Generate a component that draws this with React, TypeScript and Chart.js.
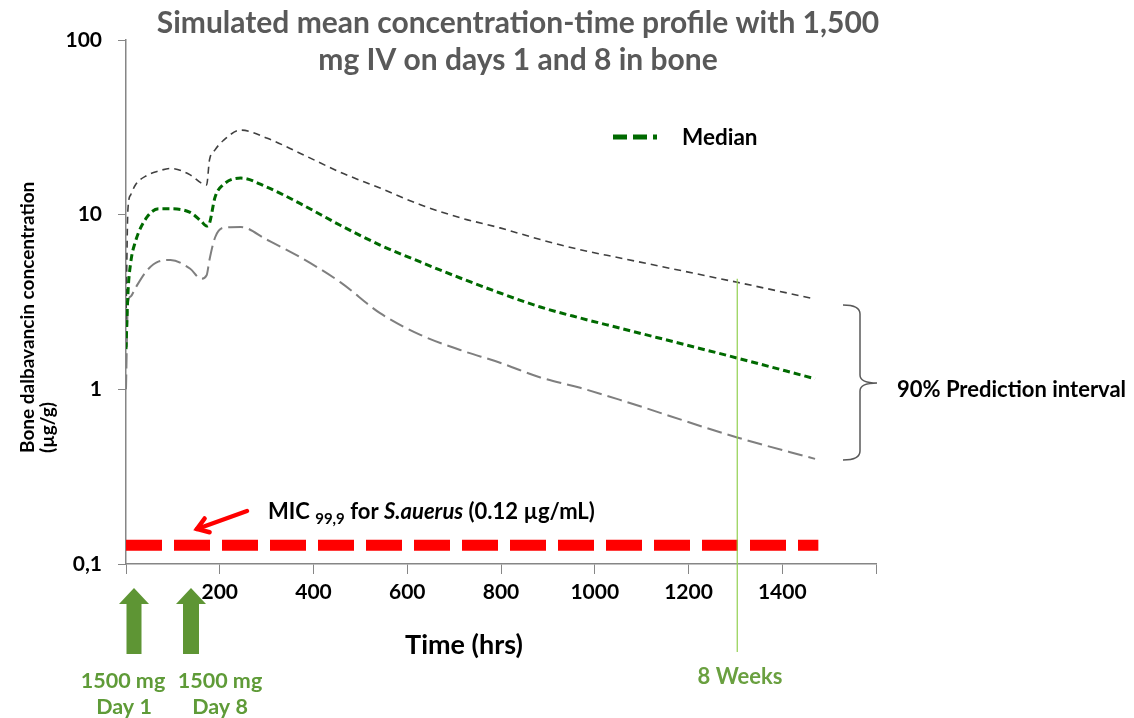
import React, { useEffect, useRef } from "react";
import { Chart, registerables } from "chart.js";

Chart.register(...registerables);

// ---- Data ----
const timeHrs = [0, 4, 10, 20, 45, 70, 95, 137, 160, 172, 178, 190, 207, 245, 300, 371, 457, 542, 628, 713, 798, 884, 969, 1054, 1304, 1470];
const upper90 = [2.5, 10.6, 13.0, 14.8, 16.8, 17.8, 18.4, 16.9, 15.2, 14.8, 20.5, 23.5, 26.5, 30.5, 27.5, 22.5, 17.5, 14.2, 11.4, 9.6, 8.4, 7.2, 6.3, 5.65, 4.1, 3.29];
const median = [1.7, 3.5, 5.3, 7.0, 9.7, 10.8, 10.8, 10.3, 9.2, 8.6, 8.9, 12.6, 14.8, 16.2, 14.4, 11.6, 8.7, 6.7, 5.36, 4.34, 3.56, 2.96, 2.56, 2.24, 1.51, 1.15];
const lower90 = [1.0, 3.1, 3.4, 3.8, 4.8, 5.4, 5.5, 4.9, 4.3, 4.5, 5.5, 7.4, 8.4, 8.5, 7.2, 5.72, 4.11, 2.73, 2.05, 1.68, 1.42, 1.17, 1.02, 0.87, 0.53, 0.40];

const micTimes = [0, 1477];
const micLevel = 0.128;
const weeksMarkTime = 1304;
const weeksMarkTopValue = 4.3;

const yTickValues = [0.1, 1, 10, 100];
const yTickLabels = ["0,1", "1", "10", "100"];
const xMin = 0;
const xMax = 1600;
const xStep = 200;

const FONT = "Lato, 'Open Sans', sans-serif";
const GREEN_TXT = "#5f9b38";

function blockArrow(ctx: CanvasRenderingContext2D, cx: number, tipY: number, headBaseY: number, bottomY: number, headHalf: number, shaftHalf: number) {
  ctx.beginPath();
  ctx.moveTo(cx, tipY);
  ctx.lineTo(cx + headHalf, headBaseY);
  ctx.lineTo(cx + shaftHalf, headBaseY);
  ctx.lineTo(cx + shaftHalf, bottomY);
  ctx.lineTo(cx - shaftHalf, bottomY);
  ctx.lineTo(cx - shaftHalf, headBaseY);
  ctx.lineTo(cx - headHalf, headBaseY);
  ctx.closePath();
  ctx.fill();
}

const annotations = {
  id: "annotations",
  afterDraw(chart: any) {
    const ctx: CanvasRenderingContext2D = chart.ctx;
    const xs = chart.scales.x;
    const ys = chart.scales.y;
    ctx.save();

    // 8 weeks line
    const wx = xs.getPixelForValue(weeksMarkTime);
    ctx.strokeStyle = "#92d050";
    ctx.lineWidth = 1.2;
    ctx.beginPath();
    ctx.moveTo(wx, ys.getPixelForValue(weeksMarkTopValue));
    ctx.lineTo(wx, 652);
    ctx.stroke();

    // Title
    ctx.fillStyle = "#595959";
    ctx.font = `bold 30px ${FONT}`;
    ctx.textAlign = "center";
    ctx.textBaseline = "alphabetic";
    ctx.fillText("Simulated mean concentration-time profile with 1,500", 518, 33);
    ctx.fillText("mg IV on days 1 and 8 in bone", 518, 70);

    // Y axis title
    ctx.save();
    ctx.fillStyle = "#000";
    ctx.font = `bold 19px ${FONT}`;
    ctx.textAlign = "left";
    ctx.translate(34, 453);
    ctx.rotate(-Math.PI / 2);
    ctx.fillText("Bone dalbavancin concentration", 0, 0);
    ctx.fillText("(µg/g)", 0, 20);
    ctx.restore();

    // X axis title
    ctx.fillStyle = "#000";
    ctx.font = `bold 27px ${FONT}`;
    ctx.textAlign = "center";
    ctx.fillText("Time (hrs)", 464, 654);

    // Legend
    ctx.strokeStyle = "#006a00";
    ctx.lineWidth = 5;
    ctx.setLineDash([14, 6]);
    ctx.beginPath();
    ctx.moveTo(613, 137);
    ctx.lineTo(657, 137);
    ctx.stroke();
    ctx.setLineDash([]);
    ctx.fillStyle = "#000";
    ctx.font = `bold 22.5px ${FONT}`;
    ctx.textAlign = "left";
    ctx.fillText("Median", 682, 145);

    // Bracket
    ctx.strokeStyle = "#595959";
    ctx.lineWidth = 1.5;
    ctx.beginPath();
    ctx.moveTo(843, 305);
    ctx.quadraticCurveTo(860, 305, 860, 314);
    ctx.lineTo(860, 375);
    ctx.quadraticCurveTo(860, 383, 877, 383);
    ctx.quadraticCurveTo(860, 383, 860, 391);
    ctx.lineTo(860, 451);
    ctx.quadraticCurveTo(860, 460, 843, 460);
    ctx.stroke();
    ctx.fillStyle = "#000";
    ctx.font = `bold 22px ${FONT}`;
    ctx.fillText("90% Prediction interval", 897, 397);

    // MIC text
    let tx = 268;
    const by = 519;
    ctx.font = `bold 22px ${FONT}`;
    ctx.fillText("MIC ", tx, by);
    tx += ctx.measureText("MIC ").width;
    ctx.font = `bold 15px ${FONT}`;
    ctx.fillText("99,9", tx, by + 5);
    tx += ctx.measureText("99,9").width;
    ctx.font = `bold 22px ${FONT}`;
    ctx.fillText(" for ", tx, by);
    tx += ctx.measureText(" for ").width;
    ctx.font = `italic bold 22px ${FONT}`;
    ctx.fillText("S.auerus", tx, by);
    tx += ctx.measureText("S.auerus").width;
    ctx.font = `bold 22px ${FONT}`;
    ctx.fillText(" (0.12 µg/mL)", tx, by);

    // Red arrow
    ctx.strokeStyle = "#ff0000";
    ctx.fillStyle = "#ff0000";
    ctx.lineWidth = 4.5;
    ctx.lineCap = "round";
    const ax0 = 247, ay0 = 511, ax1 = 197, ay1 = 529;
    ctx.beginPath();
    ctx.moveTo(ax0, ay0);
    ctx.lineTo(ax1, ay1);
    ctx.stroke();
    const ang = Math.atan2(ay1 - ay0, ax1 - ax0);
    const hl = 13;
    ctx.beginPath();
    ctx.moveTo(ax1 - hl * Math.cos(ang - 0.6), ay1 - hl * Math.sin(ang - 0.6));
    ctx.lineTo(ax1, ay1);
    ctx.lineTo(ax1 - hl * Math.cos(ang + 0.6), ay1 - hl * Math.sin(ang + 0.6));
    ctx.stroke();
    ctx.lineCap = "butt";

    // Green dose arrows
    ctx.fillStyle = "#5e9534";
    blockArrow(ctx, 134, 588, 604, 654, 15, 7.5);
    blockArrow(ctx, 191, 588, 604, 654, 15, 8);

    // Dose labels
    ctx.fillStyle = GREEN_TXT;
    ctx.font = `bold 21.5px ${FONT}`;
    ctx.textAlign = "center";
    ctx.fillText("1500 mg", 123, 688);
    ctx.fillText("Day 1", 124, 714);
    ctx.fillText("1500 mg", 220, 688);
    ctx.fillText("Day 8", 220, 714);

    // 8 weeks label
    ctx.fillStyle = "#6aa040";
    ctx.font = `bold 22px ${FONT}`;
    ctx.fillText("8 Weeks", 740, 684);

    ctx.restore();
  },
};

export default function App() {
  const ref = useRef<HTMLCanvasElement | null>(null);
  useEffect(() => {
    if (!ref.current) return;
    const toPts = (vals: number[]) => timeHrs.map((t, i) => ({ x: t, y: vals[i] }));
    const chart = new Chart(ref.current, {
      type: "line",
      data: {
        datasets: [
          {
            label: "MIC",
            data: micTimes.map((t) => ({ x: t, y: micLevel })),
            borderColor: "#ff0000",
            borderWidth: 11,
            borderDash: [36, 12],
            borderCapStyle: "butt",
            pointRadius: 0,
            clip: false as any,
          },
          {
            label: "Median",
            data: toPts(median),
            borderColor: "#006a00",
            borderWidth: 3,
            borderDash: [7, 4],
            pointRadius: 0,
            cubicInterpolationMode: "monotone",
          },
          {
            label: "Upper 90% PI",
            data: toPts(upper90),
            borderColor: "#404040",
            borderWidth: 1.6,
            borderDash: [7, 5],
            pointRadius: 0,
            cubicInterpolationMode: "monotone",
          },
          {
            label: "Lower 90% PI",
            data: toPts(lower90),
            borderColor: "#7f7f7f",
            borderWidth: 2,
            borderDash: [15, 6],
            pointRadius: 0,
            cubicInterpolationMode: "monotone",
          },
        ],
      },
      options: {
        responsive: false,
        animation: false,
        layout: { padding: { left: 0, top: 40, right: 258, bottom: 0 } },
        plugins: { legend: { display: false }, tooltip: { enabled: false }, title: { display: false } },
        scales: {
          x: {
            type: "linear",
            min: xMin,
            max: xMax,
            afterFit: (s: any) => { s.height = 154; },
            ticks: {
              stepSize: xStep,
              color: "#000",
              font: { family: FONT, size: 21, weight: "bold" },
              padding: 6,
              maxRotation: 0,
              callback: (v: any) => (v === xMin || v === xMax ? "" : String(v)),
            },
            grid: { drawOnChartArea: false, drawTicks: true, tickLength: 10, color: "#868686" },
            border: { color: "#868686", width: 1.5 },
          },
          y: {
            type: "logarithmic",
            min: 0.1,
            max: 100,
            afterFit: (s: any) => { s.width = 126; },
            afterBuildTicks: (s: any) => { s.ticks = yTickValues.map((v) => ({ value: v })); },
            ticks: {
              color: "#000",
              font: { family: FONT, size: 21, weight: "bold" },
              padding: 16,
              autoSkip: false,
              callback: (v: any) => {
                const i = yTickValues.findIndex((t) => Math.abs(t - Number(v)) < 1e-9);
                return i >= 0 ? yTickLabels[i] : "";
              },
            },
            grid: { drawOnChartArea: false, drawTicks: true, tickLength: 8, color: "#868686" },
            border: { color: "#868686", width: 1.5 },
          },
        },
      },
      plugins: [annotations],
    });
    return () => chart.destroy();
  }, []);
  return (
    <div style={{ position: "absolute", left: 0, top: 0, width: 1134, height: 718, background: "#fff" }}>
      <canvas ref={ref} width={1134} height={718} style={{ display: "block" }} />
    </div>
  );
}
